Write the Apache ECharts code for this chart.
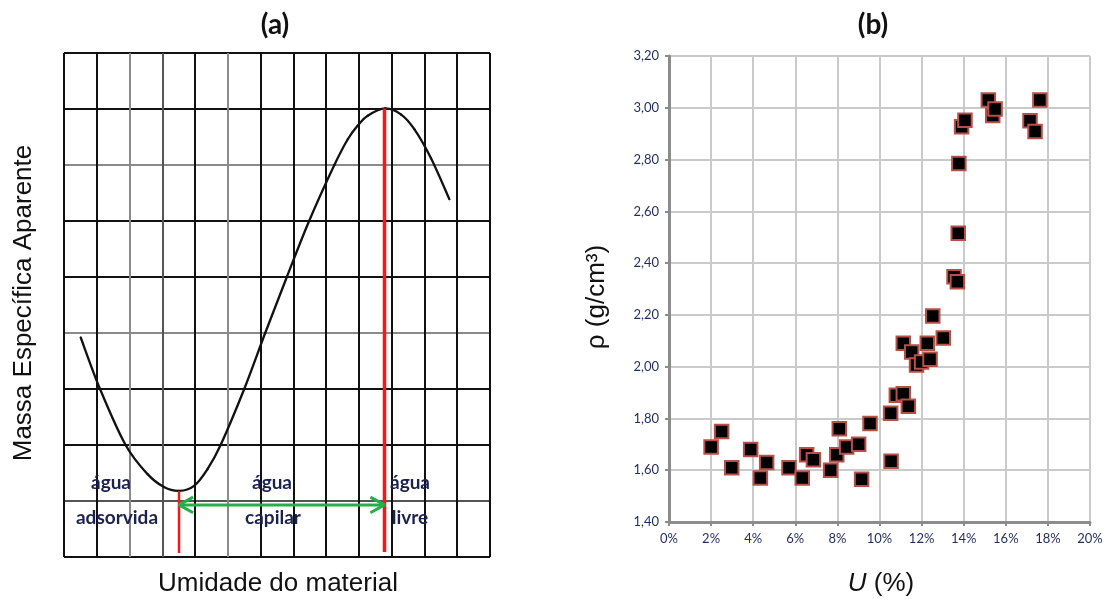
<!DOCTYPE html>
<html><head><meta charset="utf-8">
<script src="https://cdn.jsdelivr.net/npm/echarts@6/dist/echarts.min.js"></script>
<style>html,body{margin:0;padding:0;background:#fff}#c{width:1109px;height:600px}</style>
</head><body><div id="c"></div>
<script>
// ---- Panel (a): schematic curve (grid units) ----
const curveX = [0.51, 1.10, 1.88, 2.55, 3.05, 3.51, 3.97, 4.38, 4.78, 5.50, 6.14, 6.80, 7.48, 8.25, 8.66, 8.96, 9.27, 9.80, 10.29, 10.69, 11.20, 11.76];
const curveY = [3.92, 3.00, 2.00, 1.48, 1.25, 1.18, 1.27, 1.57, 2.00, 3.00, 4.00, 5.00, 6.00, 7.00, 7.46, 7.70, 7.88, 8.01, 7.90, 7.64, 7.12, 6.39];
const redLeftX = 3.51, redLeftY = [0.07, 1.18];
const redRightX = 9.78, redRightY = [0.09, 8.01];
const arrowY = 0.93;
const zoneLabels = [['água', 'adsorvida'], ['água', 'capilar'], ['água', 'livre']];

// ---- Panel (b): measured data ----
const umidade = [2.0, 2.5, 2.98, 3.88, 4.34, 4.64, 5.7, 6.33, 6.54, 6.86, 7.68, 7.97, 8.09, 8.44, 9.01, 9.15, 9.55, 10.53, 10.55, 10.8, 11.13, 11.37, 11.13, 11.53, 11.76, 12.0, 12.27, 12.4, 12.53, 13.03, 13.54, 13.7, 13.74, 13.77, 13.9, 14.06, 15.17, 15.38, 15.49, 17.15, 17.39, 17.62];
const densidade = [1.69, 1.75, 1.61, 1.68, 1.57, 1.63, 1.61, 1.57, 1.66, 1.64, 1.60, 1.66, 1.76, 1.69, 1.70, 1.565, 1.78, 1.82, 1.635, 1.89, 1.895, 1.847, 2.09, 2.057, 2.006, 2.018, 2.09, 2.029, 2.196, 2.111, 2.347, 2.328, 2.515, 2.785, 2.927, 2.952, 3.03, 2.97, 2.995, 2.95, 2.908, 3.03];

const K = '#111111', G = '#8a8a8a', G2 = '#555555';
const colColors = [K, K, G, G2, K, G, K, K, K, K, K, K, K, K];
const rowColors = [K, G2, K, K, G, K, K, G, K, K];

const curve = curveX.map((x, i) => [x, curveY[i]]);
const scatter = umidade.map((u, i) => [u, densidade[i]]);
const dx = 0.43, dy = 0.14;

// Catmull-Rom spline through the curve points, converted with the axis scales
function renderCurve(params, api) {
  if (params.dataIndex !== 0) return null;
  const pts = curve.map(p => api.coord(p));
  const children = [];
  for (let i = 0; i < pts.length - 1; i++) {
    const p0 = pts[i - 1] || pts[i], p1 = pts[i], p2 = pts[i + 1], p3 = pts[i + 2] || pts[i + 1];
    children.push({
      type: 'bezierCurve',
      shape: {
        x1: p1[0], y1: p1[1], x2: p2[0], y2: p2[1],
        cpx1: p1[0] + (p2[0] - p0[0]) / 6, cpy1: p1[1] + (p2[1] - p0[1]) / 6,
        cpx2: p2[0] - (p3[0] - p1[0]) / 6, cpy2: p2[1] - (p3[1] - p1[1]) / 6
      },
      style: {fill: null, stroke: '#111', lineWidth: 2.3, lineCap: 'round'}
    });
  }
  return {type: 'group', children};
}

const chart = echarts.init(document.getElementById('c'), null, {renderer: 'canvas'});
const labFont = 'Lato, "Open Sans", sans-serif';
const arial = '"Liberation Sans", Arial, sans-serif';
const annColor = '#1c2250';
const graphics = [
  {type: 'text', x: 275, y: 25, style: {text: '(a)', fontSize: 28, fontWeight: 'bold', fontFamily: labFont, fill: '#111', align: 'center', verticalAlign: 'middle'}},
  {type: 'text', x: 873, y: 25, style: {text: '(b)', fontSize: 28, fontWeight: 'bold', fontFamily: labFont, fill: '#111', align: 'center', verticalAlign: 'middle'}},
  {type: 'text', x: 24, y: 303, rotation: Math.PI / 2, style: {text: 'Massa Específica Aparente', fontSize: 26, fontFamily: arial, fill: '#111', align: 'center', verticalAlign: 'middle'}},
  {type: 'text', x: 278, y: 584, style: {text: 'Umidade do material', fontSize: 26, fontFamily: arial, fill: '#111', align: 'center', verticalAlign: 'middle'}},
  {type: 'text', x: 597, y: 297, rotation: Math.PI / 2, style: {text: 'ρ (g/cm³)', fontSize: 26, fontFamily: arial, fill: '#111', align: 'center', verticalAlign: 'middle'}},
  {type: 'text', x: 881, y: 584, style: {text: '{i|U} (%)', rich: {i: {fontStyle: 'italic', fontSize: 26, fontFamily: arial, fill: '#111'}}, fontSize: 26, fontFamily: arial, fill: '#111', align: 'center', verticalAlign: 'middle'}}
];
const zoneCenters = [[111, 117], [272, 273], [410, 410]];
zoneLabels.forEach((z, i) => {
  graphics.push({type: 'text', x: zoneCenters[i][0], y: 483, z: 10, style: {text: z[0], fontSize: 19, fontWeight: 'bold', fontFamily: labFont, fill: annColor, align: 'center', verticalAlign: 'middle'}});
  graphics.push({type: 'text', x: zoneCenters[i][1], y: 518, z: 10, style: {text: z[1], fontSize: 19, fontWeight: 'bold', fontFamily: labFont, fill: annColor, align: 'center', verticalAlign: 'middle'}});
});

const option = {
  animation: false,
  backgroundColor: '#fff',
  grid: [
    {left: 64, top: 53, width: 426, height: 504},
    {left: 669, top: 56, width: 421, height: 466}
  ],
  xAxis: [
    {gridIndex: 0, type: 'value', min: 0, max: 13, interval: 1, axisLabel: {show: false}, axisTick: {show: false}, axisLine: {show: false},
     splitLine: {show: true, showMinLine: true, showMaxLine: true, lineStyle: {color: colColors, width: 2}}},
    {gridIndex: 1, type: 'value', min: 0, max: 20, interval: 2,
     axisLabel: {formatter: '{value}%', fontSize: 13, fontFamily: labFont, color: '#1f2c5c', margin: 10},
     axisTick: {show: true, length: 4, lineStyle: {color: '#8c8c8c', width: 2}},
     axisLine: {show: true, onZero: false, lineStyle: {color: '#8c8c8c', width: 3}},
     splitLine: {show: true, lineStyle: {color: '#cacaca', width: 2}}}
  ],
  yAxis: [
    {gridIndex: 0, type: 'value', min: 0, max: 9, interval: 1, axisLabel: {show: false}, axisTick: {show: false}, axisLine: {show: false},
     splitLine: {show: true, showMinLine: true, showMaxLine: true, lineStyle: {color: rowColors, width: 2}}},
    {gridIndex: 1, type: 'value', min: 1.4, max: 3.2, interval: 0.2,
     axisLabel: {formatter: v => v.toFixed(2).replace('.', ','), fontSize: 13, fontFamily: labFont, color: '#1f2c5c', margin: 10},
     axisTick: {show: true, length: 4, lineStyle: {color: '#8c8c8c', width: 2}},
     axisLine: {show: true, onZero: false, lineStyle: {color: '#8c8c8c', width: 3}},
     splitLine: {show: true, lineStyle: {color: '#cacaca', width: 2}}}
  ],
  series: [
    {type: 'custom', xAxisIndex: 0, yAxisIndex: 0, data: curve, encode: {x: 0, y: 1}, renderItem: renderCurve, z: 3, silent: true},
    {type: 'line', xAxisIndex: 0, yAxisIndex: 0, data: redLeftY.map(y => [redLeftX, y]), showSymbol: false, z: 4,
     lineStyle: {color: '#ff1414', width: 2.5}},
    {type: 'line', xAxisIndex: 0, yAxisIndex: 0, data: redRightY.map(y => [redRightX, y]), showSymbol: false, z: 4,
     lineStyle: {color: '#ff1414', width: 3.5}},
    {type: 'line', xAxisIndex: 0, yAxisIndex: 0, data: [[redLeftX, arrowY], [redRightX, arrowY]], showSymbol: false, z: 5,
     lineStyle: {color: '#22b04b', width: 3}},
    {type: 'line', xAxisIndex: 0, yAxisIndex: 0, data: [[redLeftX + dx, arrowY + dy], [redLeftX, arrowY], [redLeftX + dx, arrowY - dy]], showSymbol: false, z: 5,
     lineStyle: {color: '#22b04b', width: 3}},
    {type: 'line', xAxisIndex: 0, yAxisIndex: 0, data: [[redRightX - dx, arrowY + dy], [redRightX, arrowY], [redRightX - dx, arrowY - dy]], showSymbol: false, z: 5,
     lineStyle: {color: '#22b04b', width: 3}},
    {type: 'scatter', xAxisIndex: 1, yAxisIndex: 1, data: scatter, symbol: 'rect', symbolSize: 13.5, z: 5,
     itemStyle: {color: '#000', borderColor: '#b8504a', borderWidth: 2, opacity: 1}}
  ],
  graphic: graphics
};
chart.setOption(option);
</script></body></html>
